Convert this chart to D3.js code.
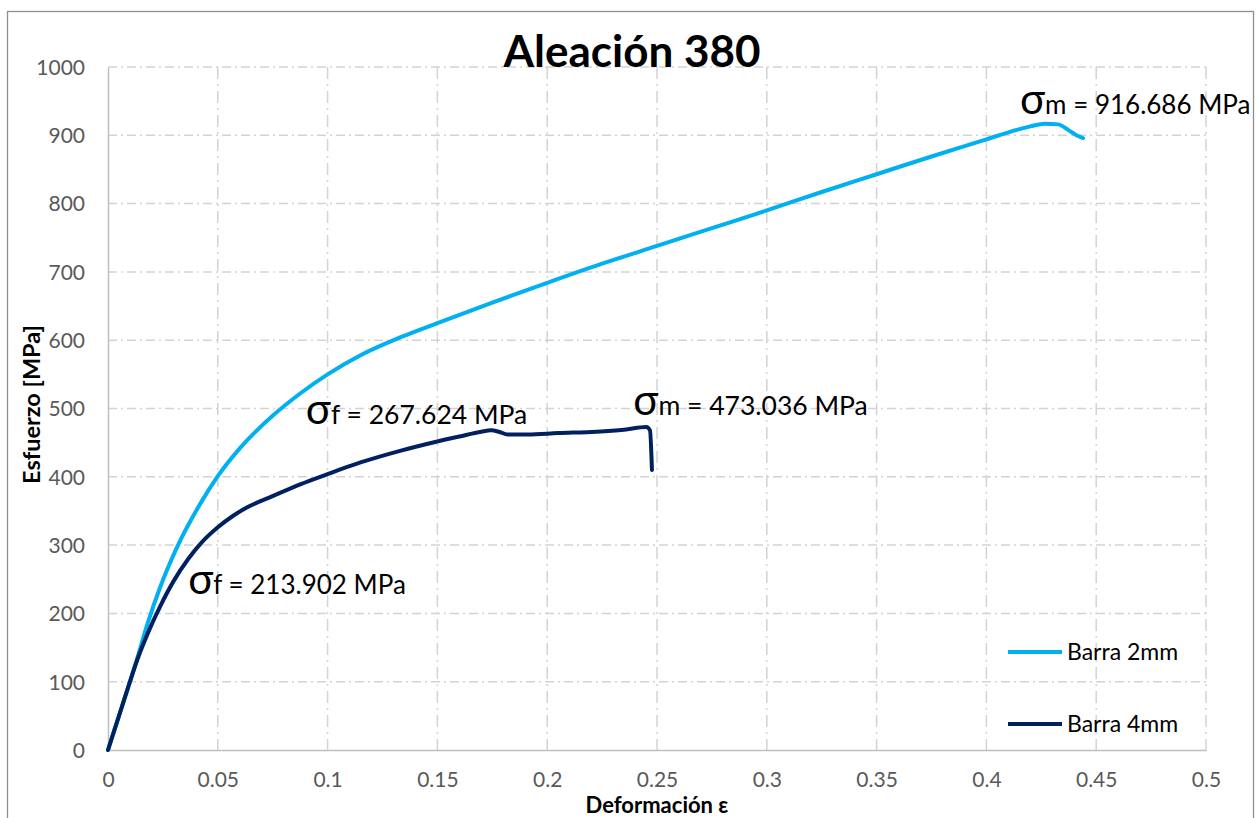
<!DOCTYPE html>
<html>
<head>
<meta charset="utf-8">
<script src="https://cdn.jsdelivr.net/npm/d3@7"></script>
<style>
  html, body { margin: 0; padding: 0; background: #ffffff; }
  svg { display: block; font-family: Lato, "Open Sans", sans-serif; }
</style>
</head>
<body>
<svg id="chart" width="1259" height="818"></svg>
<script>
// ---------- data ----------
const title = "Aleación 380";
const xAxisTitle = "Deformación ε";
const yAxisTitle = "Esfuerzo [MPa]";

const xTicks = [0, 0.05, 0.1, 0.15, 0.2, 0.25, 0.3, 0.35, 0.4, 0.45, 0.5];
const xTickLabels = ["0", "0.05", "0.1", "0.15", "0.2", "0.25", "0.3", "0.35", "0.4", "0.45", "0.5"];
const yTicks = [0, 100, 200, 300, 400, 500, 600, 700, 800, 900, 1000];
const yTickLabels = ["0", "100", "200", "300", "400", "500", "600", "700", "800", "900", "1000"];

const seriesNames = ["Barra 2mm", "Barra 4mm"];

const strain2mm = [0, 0.005, 0.01, 0.0131, 0.018, 0.0237, 0.0313, 0.0419, 0.05, 0.0601, 0.0752, 0.0875, 0.1, 0.115, 0.133, 0.15, 0.175, 0.2, 0.225, 0.25, 0.275, 0.3, 0.325, 0.35, 0.375, 0.4, 0.4138, 0.42, 0.4267, 0.4327, 0.4372, 0.441, 0.444];
const stress2mm = [0, 50, 100, 132, 185, 238, 296, 360, 401, 442, 490, 522, 550, 578, 604, 625, 655, 684, 712, 738, 764, 790, 817, 843, 869, 894, 908, 913, 917, 916, 908, 900, 896];

const strain4mm = [0, 0.005, 0.01, 0.0131, 0.018, 0.0237, 0.03, 0.0366, 0.043, 0.05, 0.057, 0.0632, 0.0752, 0.0875, 0.1, 0.115, 0.133, 0.149, 0.16, 0.17, 0.1744, 0.178, 0.182, 0.191, 0.205, 0.2224, 0.235, 0.2451, 0.2468, 0.2477];
const stress4mm = [0, 50, 100, 130, 170, 210, 248, 280, 305, 326, 343, 355, 372, 389, 404, 421, 438, 451, 459, 466, 468, 466, 462, 462, 464, 466, 469, 473, 468, 410];

// annotations: symbol + text, anchored at (strain, stress)
const annoSymbols = ["σ", "σ", "σ", "σ"];
const annoTexts = ["m = 916.686 MPa", "f = 267.624 MPa", "m = 473.036 MPa", "f = 213.902 MPa"];
const annoStrain = [0.4153, 0.0901, 0.2392, 0.0365];
const annoStress = [931, 477, 490, 228];
const annoFontSizes = [26, 26.5, 26.5, 26];

// ---------- layout ----------
const plot = { left: 108, right: 1206, top: 67, bottom: 750 };
const colors = ["#00b0f0", "#002060"];

const svg = d3.select("#chart");

const x = d3.scaleLinear().domain([0, 0.5]).range([plot.left, plot.right]);
const y = d3.scaleLinear().domain([0, 1000]).range([plot.bottom, plot.top]);

// outer chart border
svg.append("rect")
  .attr("x", 7.5).attr("y", 11.5)
  .attr("width", 1246).attr("height", 830)
  .attr("fill", "#ffffff")
  .attr("stroke", "#8e8e8e").attr("stroke-width", 1.3);

// gridlines
const grid = svg.append("g");
grid.selectAll("line.h").data(yTicks.filter(d => d > 0)).join("line")
  .attr("x1", plot.left).attr("x2", plot.right)
  .attr("y1", d => y(d)).attr("y2", d => y(d))
  .attr("stroke", "#d3d3d3").attr("stroke-width", 1.5)
  .attr("stroke-dasharray", "9 4 2 4");
grid.selectAll("line.v").data(xTicks.filter(d => d > 0)).join("line")
  .attr("y1", plot.top).attr("y2", plot.bottom)
  .attr("x1", d => x(d)).attr("x2", d => x(d))
  .attr("stroke", "#d3d3d3").attr("stroke-width", 1.5)
  .attr("stroke-dasharray", "12 5 2 5");

// axes
const xAxis = d3.axisBottom(x).tickValues(xTicks)
  .tickFormat((d, i) => xTickLabels[i]).tickSize(0);
const yAxis = d3.axisLeft(y).tickValues(yTicks)
  .tickFormat((d, i) => yTickLabels[i]).tickSize(0).tickPadding(23);

const gx = svg.append("g").attr("transform", `translate(0,${plot.bottom})`).call(xAxis);
const gy = svg.append("g").attr("transform", `translate(${plot.left},0)`).call(yAxis);
[gx, gy].forEach(g => {
  g.select(".domain").attr("stroke", "#bfbfbf").attr("stroke-width", 1.5);
  g.selectAll("text").attr("fill", "#595959").attr("font-size", 21)
    .attr("font-family", "Lato, sans-serif");
});
gx.selectAll("text").attr("dy", 0).attr("y", 36.5);
gy.selectAll("text").attr("dy", "0.35em");

// series lines
const line = d3.line().x(d => x(d[0])).y(d => y(d[1])).curve(d3.curveMonotoneX);
const data2 = strain2mm.map((v, i) => [v, stress2mm[i]]);
const data4 = strain4mm.map((v, i) => [v, stress4mm[i]]);

svg.append("path").datum(data2).attr("d", line)
  .attr("fill", "none").attr("stroke", colors[0]).attr("stroke-width", 4)
  .attr("stroke-linejoin", "round").attr("stroke-linecap", "round");
svg.append("path").datum(data4).attr("d", line)
  .attr("fill", "none").attr("stroke", colors[1]).attr("stroke-width", 4)
  .attr("stroke-linejoin", "round").attr("stroke-linecap", "round");

// annotations
annoTexts.forEach((t, i) => {
  const tx = svg.append("text")
    .attr("x", x(annoStrain[i])).attr("y", y(annoStress[i]))
    .attr("fill", "#000000");
  tx.append("tspan").attr("font-size", 42).text(annoSymbols[i]);
  tx.append("tspan").attr("font-size", annoFontSizes[i]).text(t);
});

// legend
const legendY = [652, 724];
seriesNames.forEach((name, i) => {
  svg.append("line")
    .attr("x1", 1008).attr("x2", 1062)
    .attr("y1", legendY[i]).attr("y2", legendY[i])
    .attr("stroke", colors[i]).attr("stroke-width", 4);
  svg.append("text")
    .attr("x", 1067).attr("y", legendY[i] + 8)
    .attr("font-size", 23).attr("fill", "#000000")
    .text(name);
});

// title
svg.append("text")
  .attr("x", 632).attr("y", 67)
  .attr("text-anchor", "middle")
  .attr("font-size", 44).attr("font-weight", "bold")
  .attr("fill", "#000000")
  .text(title);

// axis titles
svg.append("text")
  .attr("x", (plot.left + plot.right) / 2).attr("y", 813)
  .attr("text-anchor", "middle")
  .attr("font-size", 22).attr("font-weight", "bold")
  .attr("fill", "#000000")
  .text(xAxisTitle);

svg.append("text")
  .attr("transform", `translate(40,${(plot.top + plot.bottom) / 2 - 4}) rotate(-90)`)
  .attr("text-anchor", "middle")
  .attr("font-size", 23.5).attr("font-weight", "bold")
  .attr("fill", "#000000")
  .text(yAxisTitle);
</script>
</body>
</html>
